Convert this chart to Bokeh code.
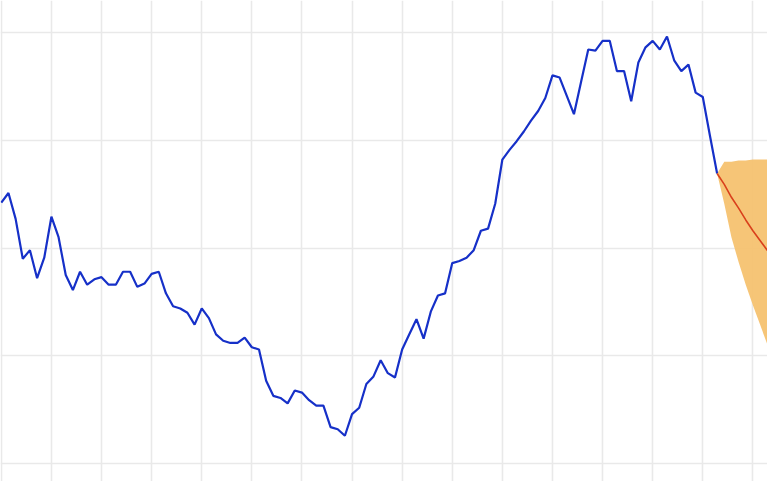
from bokeh.plotting import figure
from bokeh.models import FixedTicker, Range1d
from bokeh.embed import file_html
from bokeh.resources import INLINE

# observed series (one value per period)
observed = [84.2, 85.1, 82.7, 79.0, 79.8, 77.2, 79.1, 82.9, 81.0, 77.5,
            76.1, 77.8, 76.6, 77.1, 77.3, 76.6, 76.6, 77.8, 77.8, 76.4,
            76.7, 77.6, 77.8, 75.8, 74.6, 74.4, 74.0, 72.9, 74.4, 73.5,
            72.0, 71.4, 71.2, 71.2, 71.7, 70.8, 70.6, 67.7, 66.3, 66.1,
            65.6, 66.8, 66.6, 65.9, 65.4, 65.4, 63.4, 63.2, 62.6, 64.6,
            65.2, 67.4, 68.1, 69.6, 68.4, 68.0, 70.6, 72.0, 73.4, 71.6,
            74.1, 75.6, 75.8, 78.6, 78.8, 79.1, 79.8, 81.6, 81.8, 84.1,
            88.2, 89.1, 89.9, 90.8, 91.8, 92.7, 93.9, 96.0, 95.8, 94.1,
            92.4, 95.4, 98.4, 98.3, 99.2, 99.2, 96.4, 96.4, 93.6, 97.2,
            98.6, 99.2, 98.4, 99.6, 97.4, 96.4, 97.0, 94.4, 94.0, 90.4,
            86.9]

# forecast (starts at the last observed period)
forecast_mean = [86.9, 85.9, 84.7, 83.7, 82.6, 81.6, 80.7, 79.8, 78.9]
forecast_upper = [86.9, 88.0, 88.0, 88.1, 88.1, 88.2, 88.2, 88.2, 88.3]
forecast_lower = [86.9, 84.1, 81.0, 78.7, 76.6, 74.7, 72.9, 71.1, 69.4]

x_ticks = [0, 7, 14, 21, 28, 35, 42, 49, 56, 63, 70, 77, 84, 91, 98, 105]
y_ticks = [60, 70, 80, 90, 100]

x_obs = list(range(len(observed)))
start = len(observed) - 1
x_fc = list(range(start, start + len(forecast_mean)))

p = figure(width=767, height=481, output_backend="svg", toolbar_location=None,
           x_axis_location=None, y_axis_location=None,
           x_range=Range1d(-0.112, 107.04), y_range=Range1d(58.36, 102.94),
           min_border=0, background_fill_color="white",
           border_fill_color="white")
p.outline_line_color = None

p.xgrid.ticker = FixedTicker(ticks=x_ticks)
p.ygrid.ticker = FixedTicker(ticks=y_ticks)
p.grid.grid_line_color = "#e9e9e9"
p.grid.grid_line_width = 1.6

p.varea(x=x_fc, y1=forecast_lower, y2=forecast_upper,
        fill_color="#f5c270", fill_alpha=0.95)
p.line(x_obs, observed, line_color="#1630c8", line_width=2.2)
p.line(x_fc, forecast_mean, line_color="#d9401c", line_width=1.6)

open("out.html", "w").write(file_html(p, INLINE))
